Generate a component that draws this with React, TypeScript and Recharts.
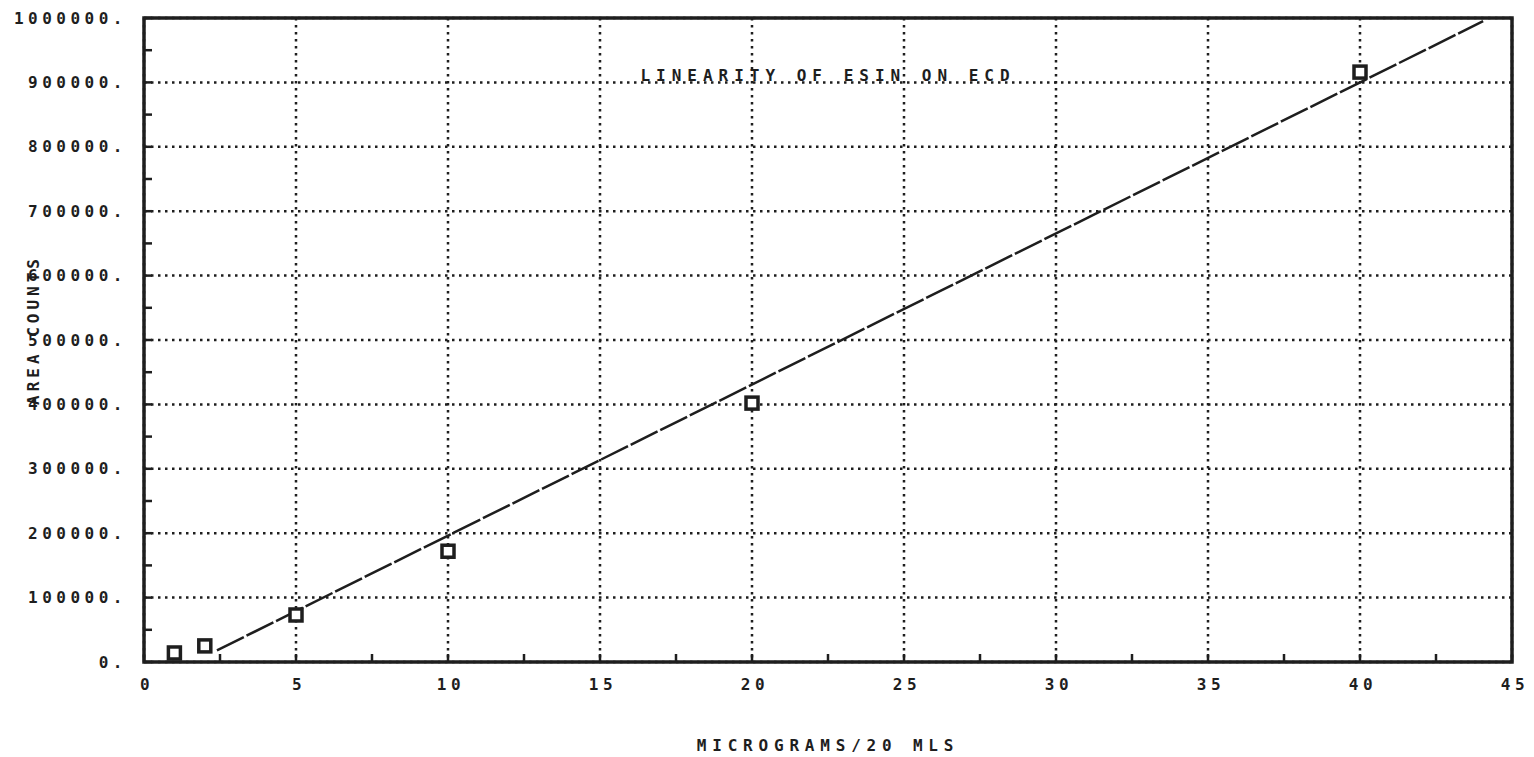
import React from 'react';
import { ComposedChart, XAxis, YAxis, CartesianGrid, Scatter, Line, ReferenceArea } from 'recharts';

const xTicks = [0, 5, 10, 15, 20, 25, 30, 35, 40, 45];
const xMinorTicks = [2.5, 7.5, 12.5, 17.5, 22.5, 27.5, 32.5, 37.5, 42.5];
const yTicks = [0, 100000, 200000, 300000, 400000, 500000, 600000, 700000, 800000, 900000, 1000000];
const yMinorTicks = [50000, 150000, 250000, 350000, 450000, 550000, 650000, 750000, 850000, 950000];

const sampleX = [1, 2, 5, 10, 20, 40];
const sampleY = [14000, 25000, 73000, 172000, 402000, 916000];

const fitX = [2.4, 44.05];
const fitY = [18000, 995000];

const title = 'LINEARITY OF ESIN ON ECD';
const xTitle = 'MICROGRAMS/20 MLS';
const yTitle = 'AREA COUNTS';

const samples = sampleX.map((x, i) => ({ x, y: sampleY[i] }));
const fit = fitX.map((x, i) => ({ x, y: fitY[i] }));

const FONT = '"DejaVu Sans Mono", "Liberation Mono", monospace';
const INK = '#1e1e1e';

const allX = [...xTicks, ...xMinorTicks].sort((a, b) => a - b);
const allY = [...yTicks, ...yMinorTicks].sort((a, b) => a - b);

const YTick = (props: any) => {
  const { x, y, payload } = props;
  const v = payload.value;
  const major = yTicks.includes(v);
  return (
    <g>
      <line x1={x} y1={y} x2={x + 8} y2={y} stroke={INK} strokeWidth={2.5} />
      {major && (
        <text x={x - 17} y={y} textAnchor="end" dominantBaseline="central" fontFamily={FONT} fontWeight="bold" fontSize={16} fill={INK} style={{ letterSpacing: '4.5px' }}>
          {`${v}.`}
        </text>
      )}
    </g>
  );
};

const XTick = (props: any) => {
  const { x, y, payload } = props;
  const v = payload.value;
  const major = xTicks.includes(v);
  return (
    <g>
      <line x1={x} y1={y} x2={x} y2={y - 8} stroke={INK} strokeWidth={2.5} />
      {major && (
        <text x={x + 3} y={y + 22} textAnchor="middle" dominantBaseline="central" fontFamily={FONT} fontWeight="bold" fontSize={16} fill={INK} style={{ letterSpacing: '4.5px' }}>
          {`${v}`}
        </text>
      )}
    </g>
  );
};

const SquareMark = (props: any) => {
  const { cx, cy } = props;
  return <rect x={cx - 6} y={cy - 6} width={12} height={12} fill="#fff" stroke={INK} strokeWidth={3.5} />;
};

export default function App() {
  return (
    <div style={{ position: 'absolute', left: 0, top: 0, width: 1534, height: 757, background: '#fff' }}>
      <ComposedChart width={1534} height={757} margin={{ top: 18, right: 22, bottom: 55, left: 14 }}>
        <CartesianGrid
          stroke={INK}
          strokeWidth={2.5}
          strokeDasharray="2.5 4.5"
          horizontalValues={yTicks}
          verticalValues={xTicks}
        />
        <XAxis
          type="number"
          dataKey="x"
          domain={[0, 45]}
          ticks={allX}
          interval={0}
          tick={<XTick />}
          tickLine={false}
          tickSize={0}
          tickMargin={0}
          axisLine={false}
          height={40}
          allowDataOverflow
        />
        <YAxis
          type="number"
          dataKey="y"
          domain={[0, 1000000]}
          ticks={allY}
          interval={0}
          tick={<YTick />}
          tickLine={false}
          tickSize={0}
          tickMargin={0}
          axisLine={false}
          width={130}
          allowDataOverflow
        />
        <ReferenceArea x1={0} x2={45} y1={0} y2={1000000} fill="none" stroke={INK} strokeWidth={3.5} ifOverflow="extendDomain" />
        <Line data={fit} dataKey="y" stroke={INK} strokeWidth={2.5} strokeDasharray="30 3" dot={false} isAnimationActive={false} />
        <Scatter data={samples} dataKey="y" shape={<SquareMark />} isAnimationActive={false} />
      </ComposedChart>
      <div style={{ position: 'absolute', left: 828, top: 75, transform: 'translate(-50%, -50%)', fontFamily: FONT, fontWeight: 'bold', fontSize: 16, color: INK, letterSpacing: '6px', whiteSpace: 'nowrap' }}>
        {title}
      </div>
      <div style={{ position: 'absolute', left: 828, top: 745, transform: 'translate(-50%, -50%)', fontFamily: FONT, fontWeight: 'bold', fontSize: 16, color: INK, letterSpacing: '5.8px', whiteSpace: 'nowrap' }}>
        {xTitle}
      </div>
      <div style={{ position: 'absolute', left: 33, top: 330, transform: 'translate(-50%, -50%) rotate(-90deg)', fontFamily: FONT, fontWeight: 'bold', fontSize: 16, color: INK, letterSpacing: '4px', whiteSpace: 'nowrap' }}>
        {yTitle}
      </div>
    </div>
  );
}
